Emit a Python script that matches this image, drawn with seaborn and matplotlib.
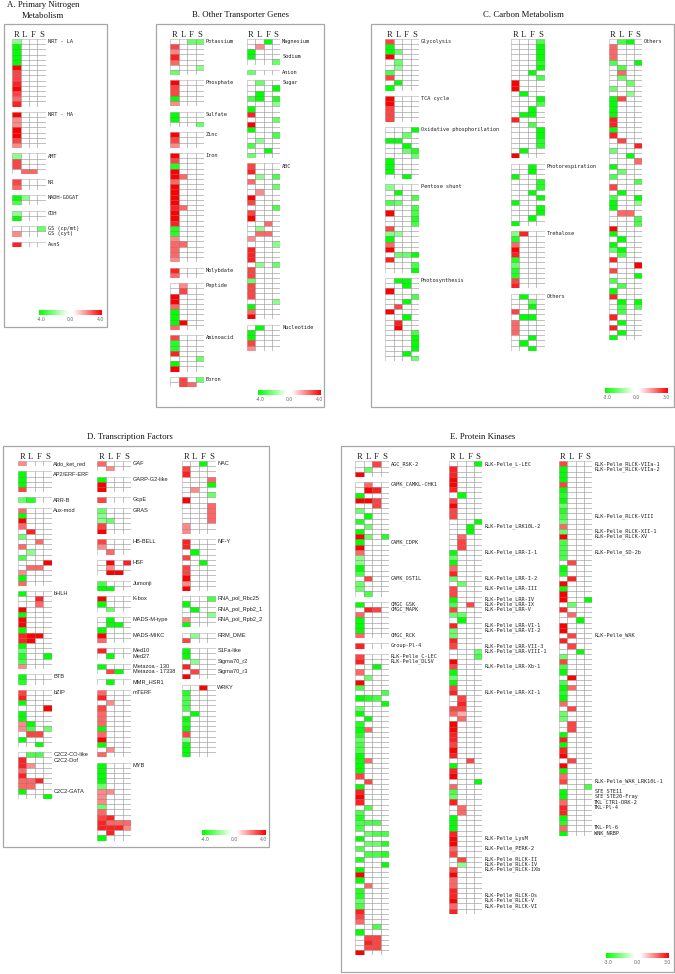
import numpy as np
import seaborn as sns
import matplotlib.pyplot as plt
from matplotlib.colors import LinearSegmentedColormap
from matplotlib.patches import Rectangle

W, H = 675, 974
ROW_H = 5.2
COL_W = 33.6
GREEN_RED = LinearSegmentedColormap.from_list(
    'gr', [(0, '#00ff00'), (0.46, '#ffffff'), (0.54, '#ffffff'), (1, '#ff0000')])

# Colour strength per cell, -4 (full green) to 4 (full red).
# A plain number is a row with only the R cell filled, a tuple is (R, L, F, S).
a_col1 = [
    [-2, -4, -4, -4, -4, 4, 3, 3, 3.5, 4, 3, 2.5, 3.5],
    [4, 2, 2, 4, 4, 3, 2],
    [-2, 3, 3, (0, 2.5, 2.5, 0)],
    [3, 2.5],
    [(-4, -2, 0, 0), -3],
    [-2, -4],
    [(0, 0, 0, -2.5), 2],
    [3.5],
]
a_col1_labels = {(0, 0): 'NRT - LA', (1, 0): 'NRT - HA', (2, 0): 'AMT', (3, 0): 'NR',
                 (4, 0): 'NADH-GOGAT', (5, 0): 'GDH', (6, 0): 'GS (cp/mt)',
                 (6, 1): 'GS (cyt)', (7, 0): 'AsnS'}

b_col1 = [
    [(0, 0, -2.5, -2.5), 3, 2, 3.5, 2.5, (0, 0, 0, -2), -2.5],
    [4, 3, 3, -4, 2],
    [-4, -4, (0, 0, 0, -2.5)],
    [4, 3, 2],
    [4, 3, -3.5, 4, (4, 2.5, 0, 0), 2.5, 4, 4, 4, 4, (3.5, 2.5, 0, 0), 4, 4, 3.5, -3.5, -3.5,
     2, (2.5, 2.5, 0, 0), 2.5, 2.5, 2],
    [3.5, 2.5],
    [(0, 2, 0, 0), (0, 3, 0, 0), 4, 4, 2.5, -4, -4, (-4, 4, 0, 0), 2.5],
    [3, -3.5, -3.5, 3.5, (0, 0, 0, -2.5), -4, 4],
    [(0, 3, 0, -2.5), (0, 3, 2.5, 0)],
]
b_col1_labels = {(0, 0): 'Potassium', (1, 0): 'Phosphate', (2, 0): 'Sulfate', (3, 0): 'Zinc',
                 (4, 0): 'Iron', (5, 0): 'Molybdate', (6, 0): 'Peptide', (7, 0): 'Aminoacid',
                 (8, 0): 'Boron'}

b_col2 = [
    [(0, 0, -4, 0), (0, 2, 0, 0), -4, -4, (0, 0, 0, -2.5)],
    [-2.5],
    [(0, -2.5, 0, 0), (0, 0, 0, -4), (0, -4, 0, 0), (-3, -4, 0, -3.5), (0, 0, 0, -2), -4, 3.5,
     (0, 0, 0, -2.5), 4, -4, (0, 0, 0, -3), (0, -2, 0, 0), -3, (0, 0, -4, 0), -2.5],
    [3, 3.5, (0, -2, 0, -3), 2.5, (0, 0, 0, -2.5), (0, 2, 0, 0), 4, 3, (0, 0, 0, -3), 3, 4,
     (0, 0, 2.5, 0), (0, -2, 0, 0), (0, 2.5, 2.5, 0), 2, (0, 0, 0, -2), 3.5, 3.5, 3.5,
     (0, -2, 0, -2.5), 3, 3, -2.5, 3, 3, 3, (0, 0, 0, -2), -4, 2.5, 4],
    [(0, -4, 0, 0), -4, -4, 3, 2],
]
b_col2_labels = {(0, 0): 'Magnesium', (0, 3): 'Sodium', (1, 0): 'Anion', (2, 0): 'Sugar',
                 (3, 0): 'ABC', (4, 0): 'Nucleotide'}

c_col1 = [
    [3, -4, (-4, -2.5, 0, 0), 4, (0, -2.5, 0, 0), (0, -2, 0, 0), -3, 3, (0, -4, 0, 0), -4],
    [4, 4, 3, 3, 3],
    [(0, 0, 0, -4), (0, 0, -2.5, 0), (-4, -4, 0, 0), (0, 0, -4, 0), (0, 0, -2.5, -3.5),
     (0, 0, 0, -2.5), -4, -4, -4, (0, 0, -4, 0)],
    [-2, (0, -4, 0, 0), (0, 0, 0, -3), (-3, -2.5, 0, 0), (0, 0, 0, -3), (4, 0, 0, -3),
     (0, 0, 0, -3.5), (0, 0, 0, -3), 3, (-2, -2, 0, 0), -4, 2.5, 4, (0, -2.5, -2.5, -4), 3.5,
     (0, 0, 0, -3), (0, 0, 0, -4)],
    [(0, -4, -4, 0), (0, 0, -4, 0), 4, (0, 0, 0, -3), (0, 0, -4, 0), (0, 3, 0, 0), 4,
     (0, 0, -4, 0), (0, 3.5, 0, 0), (0, 4, 0, 0), (0, 0, 0, -3), (0, 0, 0, -4), (0, 0, 0, -4),
     (0, 0, 0, -4), (0, 0, -4, 0), (0, 0, 0, -2.5)],
]
c_col1_labels = {(0, 0): 'Glycolysis', (1, 0): 'TCA cycle', (2, 0): 'Oxidative phosphorilation',
                 (3, 0): 'Pentose shunt', (4, 0): 'Photosynthesis'}

c_col2 = [
    [(0, 0, 0, -3), (0, 0, 0, -4), (0, 0, 0, -4), (0, 0, 0, -4), (0, 0, 0, -3.5), (0, 0, 0, -4),
     (0, 0, -4, 0), (0, 0, 0, -3), 4, 4, (0, -4, 0, 0), (0, 0, 0, -4), (0, 0, 0, -3),
     (0, 0, -4, 0), (0, -4, -4, 0), 3.5, (0, 0, -3, 0), (0, 0, 0, -4), (0, 0, 0, -4),
     (0, 0, 0, -3.5), (0, 0, 0, -3.5), (0, -4, 0, 0), 4],
    [(0, 0, -4, 0), (0, 0, -4, 0), -4, (0, 0, 0, -3.5), (0, 0, 0, -3.5), (0, 0, -4, 0),
     (0, 0, 0, -4), -4, (0, 0, 0, -4), (0, 0, 0, -4), (0, 0, -4, 0), -4],
    [(-2, 3.5, 0, 0), -3.5, 2.5, 4, 3.5, -3.5, -2.5, -3.5, -3.5, 3, 3.5],
    [(0, -4, 0, 0), (0, 0, -2.5, 0), (0, 0, -4, 0), 3, (0, -4, -4, 0), 2.5, 2.5, 2.5,
     (0, 0, -4, 0), (0, -4, 0, 0), (0, 0, -4, 0)],
]
c_col2_labels = {(1, 0): 'Photorespiration', (2, 0): 'Trehalose', (3, 0): 'Others'}

c_col3 = [
    [(0, -3, -4, 0), 2.5, 2.5, 2.5, (-3, 0, 0, -4), (0, -3, 0, 0), (0, 2.5, 0, 0), (0, -2.5, 0, 0),
     (0, 0, -2.5, 0), -2.5, (0, 0, -2, 0), (-4, 3, 0, 0), -4, -4, -4, 3.5, 3.5, -4, 3.5,
     (0, 3, 0, 0), (0, 0, 0, 3.5), -2.5, (0, 0, -4, 0), (0, 0, 0, 2.5), -4, (0, -2.5, 0, 0), -3,
     (0, 0, 0, -3), 3, (0, -4, 0, 0), (-3, 0, 0, -4), (-4, 0, 0, -2), -4, (0, 2.5, 2.5, 0),
     (0, 0, 0, -3), (0, 0, 0, -3), 4, -4, (0, -4, 0, 0), -4, (-2.5, -4, 0, 0), (0, -3, 0, 0), 3.5,
     (0, 0, 0, 4), 3, (0, 0, 0, -4), -3, (0, -3, 0, 0), -4, 3.5, (0, -4, 0, -4), (0, -3, 0, -3),
     (0, -3, 0, 0), 3.5, (0, -4, 0, 0), 3.5, (0, -4, 0, 0), -4],
]
c_col3_labels = {(0, 0): 'Others'}

d_col1 = [
    [2],
    [-4, -4, -4, 3],
    [(-2.5, -3.5, 0, 0)],
    [2.5, -4, 4, 2.5, (0, 3.5, 0, 0), -2.5, (0, 0, 2.5, 0), 2.5, (0, -2, 0, 0), -3, (0, 0, 0, 4),
     (0, 2.5, 2.5, 0), 2, -4, 2.5],
    [-4, (0, 0, 3.5, 0), (0, 0, 2.5, 0), 4, -4, 4, 4, -4, (3.5, 4, 4, 0), (3.5, 4, 0, 0), -4, -2.5,
     (-3.5, 0, 0, -4), -3, 2],
    [-4, -3.5],
    [3, 3.5, -4, (0, 0, 0, 4), -4, -4, (2, -4, 0, 0), (2, -3, 0, -2.5), (0, 3, 3, 0), -4,
     (0, 0, -4, 0)],
    [(0, -3, -3, 0), 3.5, (3.5, 2, 0, 0), 2.5, 3.5, (2.5, 2.5, 3.5, 0), (2.5, 2.5, 0, 0), -4,
     (0, 0, 0, -4)],
]
d_col1_labels = {(0, 0): 'Aldo_ket_red', (1, 0): 'AP2/ERF-ERF', (2, 0): 'ARR-B', (3, 0): 'Aux-mod',
                 (4, 0): 'bHLH', (5, 0): 'BTB', (6, 0): 'bZIP', (7, 0): 'C2C2-CO-like',
                 (7, 1): 'C2C2-Dof', (7, 7): 'C2C2-GATA'}

d_col2 = [
    [2.5, (0, 2, 0, 0)],
    [-4, 4, 4],
    [3],
    [-2.5, -2, (-2, -2.5, 0, 0), 3, 4],
    [3, 2, (0, 2.5, 0, 0)],
    [(0, 4, 0, 3.5), (0, 2, 0, 0), (0, 4, 4, 0)],
    [-3, (-4, -4, 0, 0)],
    [4, -4, (0, -2.5, 0, 0)],
    [(0, -4, 0, 0), (0, -4, -4, 0), -4, 4, 2.5],
    [3.5, (0, -4, 0, 0)],
    [-4, (0, 3, -4, 0)],
    [(0, -4, 0, 0)],
    [2.5, 3.5, (0, 2, 0, 0), 3, 2.5, 2.5, 2.5, -4, 2.5, 4, -4, (0, 2, 0, 0), 2.5],
    [-4, -4, -4, -4, -2.5, (2, 2, 0, 0), 2, 2, -2.5, 2.5, (3, 3.5, 0, 0), (3.5, 2.5, 2.5, 2.5),
     (3.5, 3.5, 3.5, 2), (0, 3.5, 0, 0), -4],
]
d_col2_labels = {(0, 0): 'GAF', (1, 0): 'GARP-G2-like', (2, 0): 'GcpE', (3, 0): 'GRAS',
                 (4, 0): 'HB-BELL', (5, 0): 'HSF', (6, 0): 'Jumonji', (7, 0): 'K-box',
                 (8, 0): 'MADS-M-type', (8, 3): 'MADS-MIKC', (9, 0): 'Med10', (9, 1): 'Med27',
                 (10, 0): 'Metazoa - 130', (10, 1): 'Metazoa - 17338', (11, 0): 'MMR_HSR1',
                 (12, 0): 'mTERF', (13, 0): 'MYB'}

d_col3 = [
    [(0, 0, -4, 0), 3, 3.5, (0, 0, 0, 2.5), (0, 0, 0, -4), (0, 2, 0, 0), (0, 0, 0, -2.5), 4,
     (0, 0, 0, 2.5), (0, 0, 0, 2.5), (0, 0, 0, 2.5), (0, 0, 0, 2.5), 2, 2],
    [3.5, 3.5, (0, -4, 0, 0), 3, (0, 0, -4, 0), 3, 3, 4, 2, 4],
    [(0, 0, 0, -3), -4, (0, -4, 0, 0), (0, 0, 0, -2), 2, -4],
    [(0, -2, 0, 0), 3],
    [-4, -4, (0, -2, 0, 0), 3.5, (0, 3, 0, 0), 4],
    [(0, 0, 4, 0), -3.5, -3, -3, -3, (0, -4, 0, 0), -4, -3.5, -4, 3, -2, -4, -4, -4],
]
d_col3_labels = {(0, 0): 'NAC', (1, 0): 'NF-Y', (2, 0): 'RNA_pol_Rbc25', (2, 2): 'RNA_pol_Rpb2_1',
                 (2, 4): 'RNA_pol_Rpb2_2', (3, 0): 'RRM_DME', (4, 0): 'S1Fa-like',
                 (4, 2): 'Sigma70_r2', (4, 4): 'Sigma70_r3', (5, 0): 'WRKY'}

e_col1 = [
    [(0, 0, 3, 0), (0, -2.5, 0, 0), 4],
    [(0, 2.5, 0, 0), (0, 4, 3.5, 0), -4, (4, 4, 3, 0), (0, 0, 3, 0), -2.5, (0, -4, 0, 0), -3.5,
     (0, -2.5, 0, 0), -4, (4, -2.5, 0, -3.5), -4, 4, 2.5, -2, -2, -4, -3, (0, 3, 0, 0), -2.5, -2.5,
     (0, -3, 0, 0)],
    [-4, (0, 3.5, 3, 0), 2.5, -4, -4, -4, 2.5],
    [3.5],
    [3, 3.5, (0, 0, -4, 0), 2.5, (0, -2.5, 0, 0), 4, -3, (0, 0, 0, -3), (-4, -3.5, -3, 0),
     (0, 0, 0, -4), -2.5, -4, (0, -4, 0, 0), -3.5, (-4, 2.5, 0, 0), -3.5, -2.5, -3, -3, -4,
     (-4, 2.5, 0, 0), -4, -4, 3, (0, 3, 0, 0), -4, 3.5, 4, 3.5, (0, -3, 0, 0), -3, -3.5,
     (-3, -3, -3, 0), -3, (0, -2.5, -3, -3), -4, (0, -2.5, -2.5, -3.5), -3, (0, -3, -3, -3.5), -3.5,
     (0, 0, 0, -4), -4, 4, -4, (0, 2.5, 0, 0), -3.5, -3.5, -2.5, -3, 3.5, 3, 2.5, (0, 0, -3, 0), -4,
     (0, 3, 3, 0), (0, 3.5, 3, 0), (0, 3, 3, 0), 4],
]
e_col1_labels = {(0, 0): 'AGC_RSK-2', (1, 0): 'CAMK_CAMKL-CHK1', (1, 11): 'CAMK_CDPK',
                 (1, 18): 'CAMK_OST1L', (2, 0): 'CMGC_GSK', (2, 1): 'CMGC_MAPK', (2, 6): 'CMGC_RCK',
                 (3, 0): 'Group-Pl-4', (4, 0): 'RLK-Pelle_C-LEC', (4, 1): 'RLK-Pelle_DLSV'}

e_col2 = [
    [(0, 0, 0, -4), 3.5, 3.5, 4, 4, 3.5, (0, -4, 0, 0), 3, 4, 3, 3, (0, 0, 0, -4), (0, 0, -4, 0),
     (0, 0, -4, 0), (0, 2.5, 0, 0), (0, 3, 0, 0), (0, 3, 0, 0), -4, -2.5, -4, 2.5, 3.5, -2.5,
     (0, -2.5, 0, 0), 3, 3, -4, (-3, 0, 3, 0), 3, (-2.5, -2.5, 0, 0), (0, -4, 0, 0), 3.5, -2.5, -2.5,
     3.5, 3, (0, 0, 0, -2.5), (0, 0, 0, -3), 4, 3, -4, -2.5, -4, 3, 3.5, (0, 3, 0, 0), (0, 3.5, 0, 0),
     (3, 3, 0, 0), (2.5, 1.5, 0, 0), (0, 2.5, 0, 0), 4, 4, 3.5, 3.5, 3, 4, 3.5, (0, 0, 3, 0), -4, 3.5,
     4, (0, 0, 0, -4), 2.5, -3, -2.5, 3.5, (0, 2.5, 0, 0), (0, 2.5, 0, 0), -4, -4, -4, 3.5, 4, 4, 2.5,
     3, (0, 3, 0, 0), (0, -2, 0, 0), 3, 4, 2.5, 2.5, 3.5, 3.5, 4, 2.5, 3.5],
]
e_col2_labels = {(0, 0): 'RLK-Pelle_L-LEC', (0, 12): 'RLK-Pelle_LRK10L-2', (0, 17): 'RLK-Pelle_LRR-I-1',
                 (0, 22): 'RLK-Pelle_LRR-I-2', (0, 24): 'RLK-Pelle_LRR-III', (0, 26): 'RLK-Pelle_LRR-IV',
                 (0, 27): 'RLK-Pelle_LRR-IX', (0, 28): 'RLK-Pelle_LRR-V', (0, 31): 'RLK-Pelle_LRR-VI-1',
                 (0, 32): 'RLK-Pelle_LRR-VI-2', (0, 35): 'RLK-Pelle_LRR-VII-3',
                 (0, 36): 'RLK-Pelle_LRR-VIII-1', (0, 39): 'RLK-Pelle_LRR-Xb-1',
                 (0, 44): 'RLK-Pelle_LRR-XI-1', (0, 72): 'RLK-Pelle_LysM', (0, 74): 'RLK-Pelle_PERK-2',
                 (0, 76): 'RLK-Pelle_RLCK-II', (0, 77): 'RLK-Pelle_RLCK-IV', (0, 78): 'RLK-Pelle_RLCK-IXb',
                 (0, 83): 'RLK-Pelle_RLCK-Os', (0, 84): 'RLK-Pelle_RLCK-V', (0, 85): 'RLK-Pelle_RLCK-VI'}

e_col3 = [
    [3, -4, -4, -4, 3, -4, -3.5, -4, -2.5, -3.5, -3, -2.5, 2.5, -2.5, 4, -3, -3, -3, -3, (0, 3, 0, 0),
     -4, -3.5, (0, 3.5, 0, 0), 4, -4, 4, (4, 0, 0, -4), (0, -2.5, 0, 0), 3.5, (0, 2.5, 0, 0),
     (0, 0, -4, 0), 4, 4, (0, 3, 0, 0), 3.5, (0, 3, 0, 0), (0, 0, -4, 0), -2.5, 3, -3, -4, (0, 4, 0, 0),
     -3, (-4, 2.5, 0, 0), -3.5, -4, 2.5, (0, 3, 0, 0), -2.5, -2.5, (0, 3, 0, 0), (0, 3, 0, 0), -4, 3.5,
     -4, 3.5, 4, (0, 3, 0, 0), 4, -4, 2.5, 3, (0, 0, 0, -3), -4, -4, 2.5, 3.5, 3.5, -4, -3.5, 2.5, -4],
]
e_col3_labels = {(0, 0): 'RLK-Pelle_RLCK-VIIa-1', (0, 1): 'RLK-Pelle_RLCK-VIIa-2',
                 (0, 10): 'RLK-Pelle_RLCK-VIII', (0, 13): 'RLK-Pelle_RLCK-XII-1',
                 (0, 14): 'RLK-Pelle_RLCK-XV', (0, 17): 'RLK-Pelle_SD-2b', (0, 33): 'RLK-Pelle_WAK',
                 (0, 61): 'RLK-Pelle_WAK_LRK10L-1', (0, 63): 'STE_STE11', (0, 64): 'STE_STE20-Fray',
                 (0, 65): 'TKL_CTR1-DRK-2', (0, 66): 'TKL-Pl-4', (0, 70): 'TKL-Pl-6', (0, 71): 'WNK_NRBP'}

headers = ['R', 'L', 'F', 'S']
small_scale = ['-4.0', '0.0', '4.0']
large_scale = ['-3.0', '0.0', '3.0']

sns.set_style('white')
fig = plt.figure(figsize=(W / 100, H / 100), dpi=100)


def px_axes(left, top, width, height):
    return fig.add_axes([left / W, 1 - (top + height) / H, width / W, height / H])


def draw_column(blocks, labels, left, top, family='DejaVu Sans Mono', size=3.75):
    # one small heatmap per gene group, one empty row height between groups
    row_pos = 0
    for b, block in enumerate(blocks):
        rows = [row if isinstance(row, tuple) else (row, 0, 0, 0) for row in block]
        values = np.array(rows, dtype=float)
        ax = px_axes(left, top + row_pos * ROW_H, COL_W, len(values) * ROW_H)
        sns.heatmap(values, ax=ax, cmap=GREEN_RED, vmin=-4, vmax=4, cbar=False,
                    linewidths=0.5, linecolor=(0.35, 0.35, 0.35, 0.38), antialiased=True,
                    xticklabels=False, yticklabels=False)
        ax.axis('off')
        if b == 0:
            for i, name in enumerate(headers):
                ax.text(i + 0.5, -0.8, name, ha='center', va='center', fontsize=6.2,
                        family='Liberation Serif', color='#222222', clip_on=False)
        for (label_block, r), text in labels.items():
            if label_block == b:
                ax.text(4.22, r + 0.5, text, ha='left', va='center', fontsize=size,
                        family=family, color='#222222', clip_on=False)
        row_pos += len(values) + 1


def draw_scale(left, top, names):
    ax = px_axes(left, top, 63.4, 5.2)
    sns.heatmap(np.linspace(-4, 4, 128).reshape(1, -1), ax=ax, cmap=GREEN_RED, vmin=-4, vmax=4,
                cbar=False, xticklabels=False, yticklabels=False)
    ax.axis('off')
    for pos, name in zip([0.04, 0.5, 0.965], names):
        ax.text(pos, -0.85, name, transform=ax.transAxes, ha='center', va='center',
                fontsize=3.3, color='#666666', clip_on=False)


page = fig.add_axes([0, 0, 1, 1])
page.set_xlim(0, W)
page.set_ylim(H, 0)
page.axis('off')
for x0, y0, x1, y1 in [(3.5, 24, 107, 327), (155.5, 24, 323.5, 407), (371, 24, 673.5, 407),
                       (3, 446, 269, 847), (341, 446, 674, 972)]:
    page.add_patch(Rectangle((x0, y0), x1 - x0, y1 - y0, fill=False, edgecolor='#a6a6a6', lw=0.9))
for x, y, text in [(43, 5, 'A. Primary Nitrogen'), (43, 15.5, 'Metabolism'),
                   (240, 14.7, 'B. Other Transporter Genes'), (523, 14.7, 'C. Carbon Metabolism'),
                   (130, 437, 'D. Transcription Factors'), (482.7, 436.7, 'E. Protein Kinases')]:
    page.text(x, y, text, ha='center', va='center', fontsize=6.3,
              family='Liberation Serif', color='#111111')

draw_column(a_col1, a_col1_labels, 12.2, 39)
draw_scale(39, 310, small_scale)

draw_column(b_col1, b_col1_labels, 170.3, 38.7)
draw_column(b_col2, b_col2_labels, 246.7, 38.7)
draw_scale(257.7, 390, small_scale)

draw_column(c_col1, c_col1_labels, 385.3, 38.7)
draw_column(c_col2, c_col2_labels, 511, 38.7)
draw_column(c_col3, c_col3_labels, 608.7, 38.7)
draw_scale(605, 387.5, large_scale)

draw_column(d_col1, d_col1_labels, 18, 461, family='Liberation Sans', size=4.1)
draw_column(d_col2, d_col2_labels, 97.3, 461, family='Liberation Sans', size=4.1)
draw_column(d_col3, d_col3_labels, 182, 461, family='Liberation Sans', size=4.1)
draw_scale(202.3, 830, small_scale)

draw_column(e_col1, e_col1_labels, 355.3, 461.3)
draw_column(e_col2, e_col2_labels, 448.7, 461.3)
draw_column(e_col3, e_col3_labels, 558.7, 461.3)
draw_scale(606, 953, large_scale)

fig.savefig('out.png', dpi=100, facecolor='white')
